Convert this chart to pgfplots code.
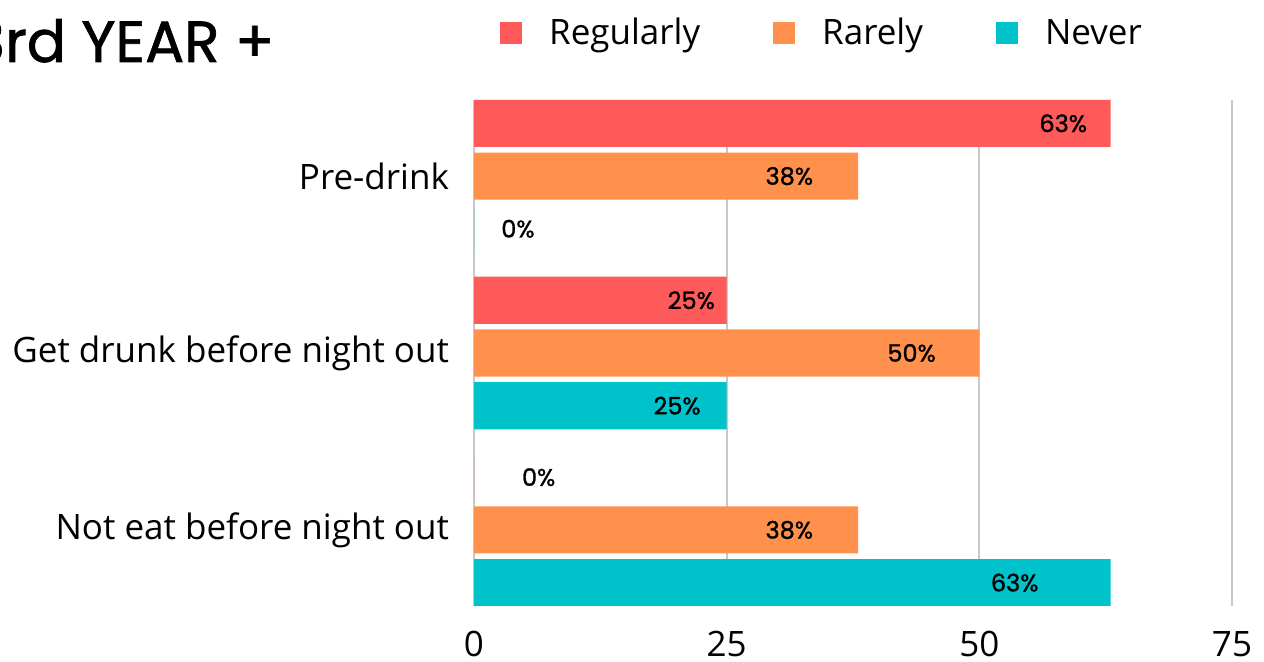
\documentclass[border=0pt]{standalone}
\usepackage{fontspec}
\setmainfont{Open Sans}
\newfontfamily\poppins{Poppins}[FakeBold=1.2]
\usepackage{pgfplots}
\usepackage{pgfplotstable}
\pgfplotsset{compat=1.18}

\definecolor{cReg}{HTML}{FF5A5A}
\definecolor{cRar}{HTML}{FF914D}
\definecolor{cNev}{HTML}{00C2CB}
\definecolor{gridgray}{HTML}{C8C8C8}

% group: 0 Pre-drink, 1 Get drunk, 2 Not eat
\pgfplotstableread{
g val
0 63
1 25
2 0
}\regularly
\pgfplotstableread{
g val
0 38
1 50
2 38
}\rarely
\pgfplotstableread{
g val
0 0
1 25
2 63
}\never
% where the value labels sit (x centre, y position)
\pgfplotstableread{
x y label
58.3 -0.298 63
31.2 0 38
4.35 0.298 0
21.5 0.702 25
43.3 1 50
20.1 1.298 25
6.4 1.702 0
31.2 2 38
53.5 2.298 63
}\labels

\begin{document}
\begin{tikzpicture}
\useasboundingbox (0,0) rectangle (632pt,331pt);
\node[anchor=base east, inner sep=0pt, font=\poppins\fontsize{29}{34}\selectfont] at (137.5pt,300pt) {3rd YEAR +};
\begin{axis}[
    at={(237pt,28pt)}, anchor=south west,
    scale only axis,
    width=379pt, height=253pt,
    xmin=0, xmax=75,
    ymin=-0.43, ymax=2.43,
    y dir=reverse,
    xtick={0,25,50,75},
    ytick={0,1,2},
    yticklabels={Pre-drink, Get drunk before night out, Not eat before night out},
    major tick length=0pt,
    axis line style={draw=none},
    xmajorgrids, ymajorgrids=false,
    grid style={gridgray, line width=1pt},
    tick label style={font=\fontsize{17.5}{20}\selectfont},
    yticklabel style={xshift=-9pt},
    xticklabel style={yshift=-9pt},
    /pgf/number format/assume math mode=true,
    legend columns=-1,
    legend image code/.code={\fill[#1] (0pt,-5.5pt) rectangle (11pt,5.5pt);},
    legend style={at={(0.034,1.132)}, anchor=west, draw=none, fill=none,
        inner sep=0pt, nodes={inner sep=0pt},
        font=\fontsize{17.5}{20}\selectfont,
        /tikz/every odd column/.append style={column sep=13.5pt},
        /tikz/every even column/.append style={column sep=36.5pt}},
]
\addplot[xbar, bar width=0.266, bar shift=-0.298, fill=cReg, draw=none] table[x=val, y=g] {\regularly};
\addplot[xbar, bar width=0.266, bar shift=0, fill=cRar, draw=none] table[x=val, y=g] {\rarely};
\addplot[xbar, bar width=0.266, bar shift=0.298, fill=cNev, draw=none] table[x=val, y=g] {\never};
\legend{Regularly, Rarely, Never}
\addplot[draw=none, mark=none, forget plot,
    point meta=explicit symbolic,
    nodes near coords={\pgfplotspointmeta\%},
    nodes near coords style={anchor=center, font=\poppins\fontsize{12}{14}\selectfont}]
    table[x=x, y=y, meta=label] {\labels};
\end{axis}
\end{tikzpicture}
\end{document}
